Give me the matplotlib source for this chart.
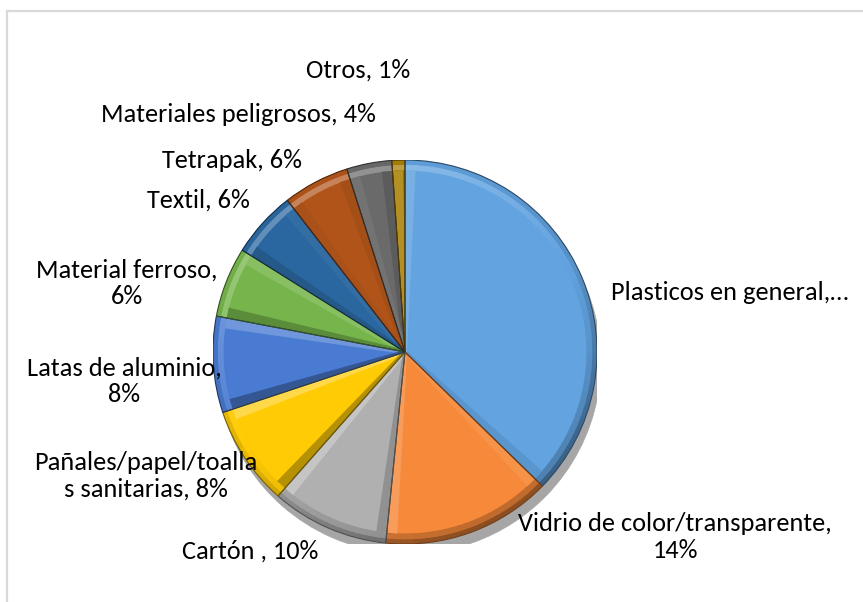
import numpy as np
import matplotlib
matplotlib.use("Agg")
import matplotlib.pyplot as plt
from matplotlib.patches import Wedge, Polygon
from matplotlib import font_manager
from matplotlib.colors import to_rgb
from matplotlib.lines import Line2D

# ---------------- data ----------------
categories = ["Plasticos en general", "Vidrio de color/transparente", "Cartón ",
              "Pañales/papel/toallas sanitarias", "Latas de aluminio", "Material ferroso",
              "Textil", "Tetrapak", "Materiales peligrosos", "Otros"]
values = [37.3, 14.3, 9.9, 8.4, 8.1, 5.9, 5.6, 5.6, 3.8, 1.1]
label_texts = ["Plasticos en general,…", "Vidrio de color/transparente,\n14%", "Cartón , 10%",
               "Pañales/papel/toalla\ns sanitarias, 8%", "Latas de aluminio,\n8%",
               "Material ferroso,\n6%", "Textil, 6%", "Tetrapak, 6%",
               "Materiales peligrosos, 4%", "Otros, 1%"]
colors = ["#62A3E0", "#F6893A", "#B0B0B0", "#FFCB05", "#4A7BD2", "#76B54B",
          "#2A67A0", "#B0541A", "#6A6A6A", "#A87F05"]

# label centres in figure pixels (layout)
label_pos = [(730, 292), (675, 537), (250, 551), (146, 476), (124, 381),
             (127, 283), (198, 200), (232, 160), (238, 115), (358, 70)]

names = {f.name for f in font_manager.fontManager.ttflist}
fam = [f for f in ["Carlito", "Lato", "DejaVu Sans"] if f in names]
plt.rcParams["font.family"] = fam

W, H = 863, 602
fig = plt.figure(figsize=(W / 100, H / 100), dpi=100)
fig.patch.set_facecolor("white")

# border lines (chart area)
fig.add_artist(Line2D([7 / W, 1], [1 - 10.5 / H, 1 - 10.5 / H], color="#d9d9d9", lw=1.6))
fig.add_artist(Line2D([7 / W, 7 / W], [0, 1 - 10.5 / H], color="#d9d9d9", lw=1.6))

cx, cy, R = 405, 352, 192
ax = fig.add_axes([(cx - R) / W, 1 - (cy + R) / H, 2 * R / W, 2 * R / H])
ax.set_xlim(-1, 1)
ax.set_ylim(-1, 1)
ax.set_aspect("equal")
ax.axis("off")


def mix(c, t):
    c = np.array(to_rgb(c))
    if t >= 0:
        return tuple(c + (1 - c) * t)
    return tuple(c * (1 + t))


light = np.deg2rad(120)
fracs = np.array(values) / sum(values)
ends = 90 - 360 * np.cumsum(fracs)
starts = np.concatenate([[90], ends[:-1]])

# shadow
for s, e in zip(starts, ends):
    ax.add_patch(Wedge((0.02, -0.05), 1.0, e, s, facecolor="#a6a6a6", edgecolor="#a6a6a6",
                       lw=0.5, zorder=1))

bw = 0.055
for s, e, col in zip(starts, ends, colors):
    th1, th2 = e, s
    base = Wedge((0, 0), 1.0, th1, th2, facecolor=col, edgecolor="none", zorder=2)
    ax.add_patch(base)
    # rim bevel (two sub-bands: outer edge and inner highlight)
    n = max(int((th2 - th1) / 2), 2)
    angs = np.linspace(th1, th2, n + 1)
    for a1, a2 in zip(angs[:-1], angs[1:]):
        phi = np.deg2rad((a1 + a2) / 2)
        sh = np.cos(phi - light)
        t_in = 0.28 * sh if sh > 0 else 0.22 * sh
        t_out = 0.10 * sh - 0.12 if sh > 0 else 0.35 * sh - 0.08
        p = Wedge((0, 0), 1.0 - bw * 0.45, a1, a2 + 0.3, width=bw * 0.55,
                  facecolor=mix(col, t_in), edgecolor="none", zorder=3)
        ax.add_patch(p)
        p.set_clip_path(base)
        p2 = Wedge((0, 0), 1.0, a1, a2 + 0.3, width=bw * 0.45,
                   facecolor=mix(col, t_out), edgecolor="none", zorder=3)
        ax.add_patch(p2)
        p2.set_clip_path(base)
    # radial edge bevels
    for th, sign in ((th1, 1), (th2, -1)):
        t_r = np.deg2rad(th)
        u = np.array([np.cos(t_r), np.sin(t_r)])
        nin = np.array([np.cos(t_r + sign * np.pi / 2), np.sin(t_r + sign * np.pi / 2)])
        nout = -nin
        sh = np.cos(np.arctan2(nout[1], nout[0]) - light)
        t = 0.28 * sh if sh > 0 else 0.3 * sh
        pts = [(0, 0), tuple(u * (1 - bw)), tuple(u * (1 - bw) + bw * nin), tuple(bw * nin * 0.2)]
        pg = Polygon(pts, closed=True, facecolor=mix(col, t), edgecolor="none", zorder=3)
        ax.add_patch(pg)
        pg.set_clip_path(base)
    ax.add_patch(Wedge((0, 0), 1.0, th1, th2, facecolor="none", edgecolor=mix(col, -0.55),
                       lw=0.8, zorder=4))

for txt, (px, py) in zip(label_texts, label_pos):
    fig.text(px / W, 1 - py / H, txt, ha="center", va="center", fontsize=19,
             color="#000000", linespacing=1.2)

fig.savefig("out.png", dpi=100, facecolor="white")
